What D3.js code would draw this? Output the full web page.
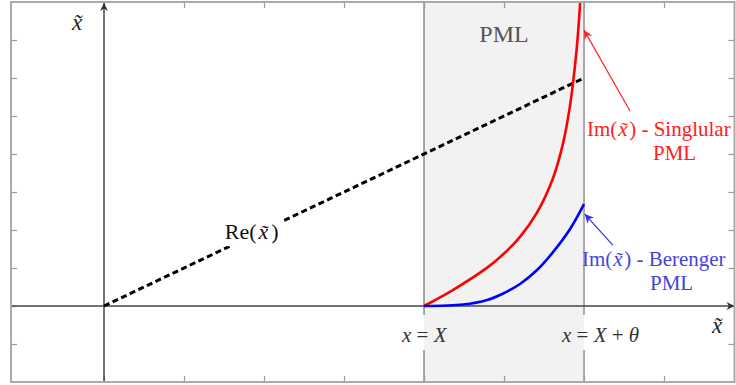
<!DOCTYPE html>
<html>
<head>
<meta charset="utf-8">
<script src="https://cdn.jsdelivr.net/npm/d3@7"></script>
<style>
  html, body { margin: 0; padding: 0; background: #fff; }
  svg { display: block; }
  text { font-family: "Liberation Serif", "Times New Roman", serif; }
</style>
</head>
<body>
<svg id="chart" width="736" height="385"></svg>
<script>
// Tick positions along the frame
const xTicks = [0, 1, 2, 3, 4, 5, 6, 7];
const yTicks = [-1, 0, 1, 2, 3, 4, 5, 6, 7];

// PML layer bounds: x = X and x = X + theta
const pmlStart = 4;
const pmlEnd = 6;

// Re(x~): straight line through the origin
const reX = [0, 6];
const reY = [0, 6];

// Im(x~) for the singular PML
const singX = [4, 4.36, 4.79, 4.99, 5.2, 5.41, 5.61, 5.74, 5.82, 5.87, 5.91, 5.94, 5.96];
const singY = [0, 0.42, 1.01, 1.36, 1.82, 2.45, 3.35, 4.3, 5.2, 6.0, 6.8, 7.6, 8.3];

// Im(x~) for the Berenger PML
const berX = [4, 4.49, 4.79, 4.99, 5.2, 5.41, 5.61, 5.83, 6];
const berY = [0, 0.04, 0.16, 0.33, 0.58, 0.94, 1.41, 2.04, 2.68];

const svg = d3.select("#chart");
const x = d3.scaleLinear().domain([-1.1625, 7.9]).range([11, 736]);
const y = d3.scaleLinear().domain([-2, 8]).range([382, 2]);
const fLeft = x.range()[0], fRight = 734.5, fTop = y.range()[1], fBottom = y.range()[0];

const defs = svg.append("defs");
defs.append("clipPath").attr("id", "plotClip")
  .append("rect").attr("x", fLeft).attr("y", fTop)
  .attr("width", fRight - fLeft).attr("height", fBottom - fTop);

function arrowMarker(id, color, w, h) {
  defs.append("marker").attr("id", id)
    .attr("viewBox", "0 0 10 10").attr("refX", 10).attr("refY", 5)
    .attr("markerUnits", "userSpaceOnUse")
    .attr("markerWidth", w).attr("markerHeight", h)
    .attr("orient", "auto")
    .append("path").attr("d", "M0,0 L10,5 L0,10 L3,5 Z").attr("fill", color);
}
arrowMarker("arrAxis", "#333", 11, 8);
arrowMarker("arrRed", "#ff2020", 12, 9);
arrowMarker("arrBlue", "#3030e0", 12, 9);

// PML shaded band
svg.append("rect")
  .attr("x", x(pmlStart)).attr("y", fTop)
  .attr("width", x(pmlEnd) - x(pmlStart)).attr("height", fBottom - fTop)
  .attr("fill", "#f2f2f2");

// PML boundaries, broken where the x = X labels sit
const gapTop = 315, gapBottom = 350;
[[pmlStart, "#555", 1], [pmlEnd, "#aaa", 2]].forEach(([v, c, w]) => {
  svg.append("line").attr("x1", x(v)).attr("x2", x(v)).attr("y1", fTop).attr("y2", gapTop)
    .attr("stroke", c).attr("stroke-width", w);
  svg.append("line").attr("x1", x(v)).attr("x2", x(v)).attr("y1", gapBottom).attr("y2", fBottom)
    .attr("stroke", c).attr("stroke-width", w);
});

// Frame ticks pointing inward on all four sides
function frameAxis(axis, tx, ty, ticks) {
  const g = svg.append("g").attr("transform", `translate(${tx},${ty})`)
    .call(axis.tickValues(ticks).tickSize(6).tickFormat(""));
  g.select(".domain").remove();
  g.selectAll(".tick text").remove();
  g.selectAll(".tick line").attr("stroke", "#999").attr("stroke-width", 1.2);
}
frameAxis(d3.axisTop(x), 0, fBottom, xTicks);
frameAxis(d3.axisBottom(x), 0, fTop, xTicks);
frameAxis(d3.axisRight(y), fLeft, 0, yTicks);
frameAxis(d3.axisLeft(y), fRight, 0, yTicks);

// Coordinate axes
svg.append("line")
  .attr("x1", fLeft).attr("x2", fRight).attr("y1", y(0)).attr("y2", y(0))
  .attr("stroke", "#444").attr("stroke-width", 1.5).attr("marker-end", "url(#arrAxis)");
svg.append("line")
  .attr("x1", x(0)).attr("x2", x(0)).attr("y1", fBottom).attr("y2", fTop + 1)
  .attr("stroke", "#444").attr("stroke-width", 1.5).attr("marker-end", "url(#arrAxis)");

const line = d3.line().x(d => x(d[0])).y(d => y(d[1])).curve(d3.curveCatmullRom.alpha(0.5));
const plot = svg.append("g").attr("clip-path", "url(#plotClip)");

// Re(x~) dashed
plot.append("path").datum(d3.zip(reX, reY)).attr("d", line)
  .attr("fill", "none").attr("stroke", "#000").attr("stroke-width", 3)
  .attr("stroke-dasharray", "6,3.5");

// Im(x~) curves
plot.append("path").datum(d3.zip(singX, singY)).attr("d", line)
  .attr("fill", "none").attr("stroke", "#ff0000").attr("stroke-width", 2.6);
plot.append("path").datum(d3.zip(berX, berY)).attr("d", line)
  .attr("fill", "none").attr("stroke", "#0000ff").attr("stroke-width", 2.6);

// Re(x~) label on a white patch
const labels = svg.append("g");
const reLabel = labels.append("text").attr("x", x(1.51)).attr("y", y(1.76))
  .attr("font-size", 22).attr("fill", "#111");
reLabel.append("tspan").text("Re(");
reLabel.append("tspan").attr("dx", 2).attr("font-style", "italic").text("x\u0303");
reLabel.append("tspan").attr("dx", 3).text(")");
const bb = reLabel.node().getBBox();
labels.insert("rect", () => reLabel.node()).attr("x", bb.x - 4).attr("y", bb.y - 2)
  .attr("width", bb.width + 9).attr("height", bb.height + 4).attr("fill", "#fff");

// PML title
svg.append("text").attr("x", x(5)).attr("y", y(6.95)).attr("text-anchor", "middle")
  .attr("font-size", 24).attr("fill", "#555").text("PML");

// Curve annotations
function imLabel(x0, y0, color, rest, x1, y1) {
  const t = svg.append("text").attr("x", x0).attr("y", y0).attr("font-size", 21).attr("fill", color);
  t.append("tspan").text("Im(");
  t.append("tspan").attr("dx", 1).attr("font-style", "italic").text("x\u0303");
  t.append("tspan").attr("dx", 1.5).text(") - " + rest);
  svg.append("text").attr("x", x1).attr("y", y1).attr("font-size", 21).attr("fill", color).text("PML");
}
imLabel(587, 136, "#ff2020", "Singlular", 653, 160);
imLabel(582, 266, "#4444dd", "Berenger", 650, 290);

svg.append("line").attr("x1", x(6.575)).attr("y1", y(5.13)).attr("x2", x(6.0)).attr("y2", y(7.26))
  .attr("stroke", "#ff2020").attr("stroke-width", 1.2).attr("marker-end", "url(#arrRed)");
svg.append("line").attr("x1", x(6.36)).attr("y1", y(1.6)).attr("x2", x(6.01)).attr("y2", y(2.42))
  .attr("stroke", "#3030e0").attr("stroke-width", 1.2).attr("marker-end", "url(#arrBlue)");

// Boundary labels
function eqLabel(px, parts) {
  const t = svg.append("text").attr("x", px).attr("y", 342).attr("font-size", 21).attr("fill", "#333");
  parts.forEach(([s, it]) => t.append("tspan").attr("font-style", it ? "italic" : "normal").text(s));
}
eqLabel(402, [["x", true], [" = ", false], ["X", true]]);
eqLabel(562, [["x", true], [" = ", false], ["X", true], [" + ", false], ["\u03b8", true]]);

// Axis labels
svg.append("text").attr("x", 712).attr("y", 333).attr("font-size", 23)
  .attr("font-style", "italic").attr("fill", "#222").text("x\u0303");
svg.append("text").attr("x", 72).attr("y", 30).attr("font-size", 23)
  .attr("font-style", "italic").attr("fill", "#222").text("x\u0303");

// Outer frame
svg.append("rect").attr("x", fLeft).attr("y", fTop)
  .attr("width", fRight - fLeft).attr("height", fBottom - fTop)
  .attr("fill", "none").attr("stroke", "#aaa").attr("stroke-width", 2);
</script>
</body>
</html>
